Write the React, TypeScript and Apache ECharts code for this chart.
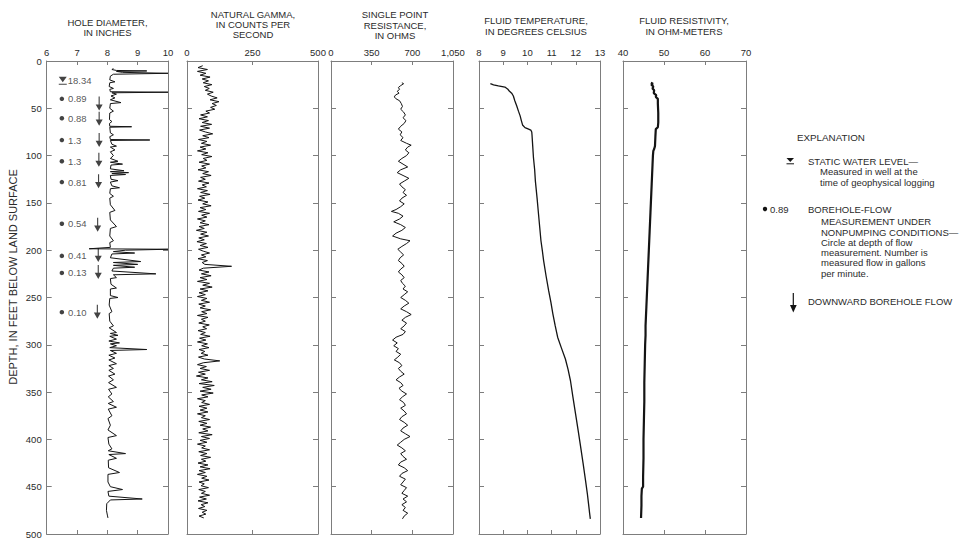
import React, { useEffect, useRef } from 'react';
import * as echarts from 'echarts';

// ---------- DATA ----------
// Hole diameter (inches) vs depth (feet)
const CALIPER: [number, number][] = [
  [8.2, 8], [8.15, 9], [8.3, 10], [9.3, 10.5], [8.3, 11], [8.5, 12], [10, 13], [8.2, 14], [8.1, 16], [8.08, 20],
  [8.25, 22], [8.08, 23], [8.06, 27], [8.2, 29], [8.08, 30], [8.1, 32.5], [10, 33], [8.15, 33.6], [8.3, 35], [8.12, 37],
  [8.25, 39], [8.1, 41], [8.45, 44], [8.1, 45], [8.08, 50], [8.2, 53], [8.08, 55], [8.07, 62], [8.15, 64], [8.07, 66],
  [8.08, 69], [8.8, 69.5], [8.08, 70], [8.1, 76], [8.2, 78], [8.08, 80], [8.1, 83], [9.4, 83.5], [8.1, 84], [8.15, 88],
  [8.3, 90], [8.1, 91], [8.25, 94], [8.1, 96], [8.2, 100], [8.1, 103], [8.35, 106], [8.1, 107], [8.5, 109], [8.12, 110],
  [8.1, 114], [8.55, 116], [8.1, 117], [8.7, 118], [8.15, 119], [8.6, 120], [8.1, 121], [8.12, 125], [8.35, 126.5], [8.1, 128],
  [8.15, 132], [8.4, 134], [8.1, 135], [8.08, 140], [8.2, 143], [8.08, 145], [8.1, 152], [8.25, 158], [8.08, 160], [8.1, 168],
  [8.3, 175], [8.1, 177], [8.08, 185], [8.2, 190], [8.08, 192], [8.1, 197], [7.4, 198.5], [10, 199], [8.6, 200], [8.2, 201.5],
  [8.9, 203], [8.15, 204], [8.1, 208], [9.1, 212], [8.2, 213], [9.0, 215], [8.2, 216], [8.9, 218], [8.2, 219], [8.15, 222],
  [9.6, 225], [8.2, 226], [8.3, 229], [8.1, 230], [8.12, 236], [8.3, 240], [8.1, 241], [8.1, 248], [8.35, 250], [8.08, 251],
  [8.06, 258], [8.15, 265], [8.06, 267], [8.08, 275], [8.2, 280], [8.06, 282], [8.3, 287], [8.1, 288], [8.35, 290], [8.08, 291],
  [8.3, 294], [8.05, 296], [8.4, 298], [8.1, 299], [8.3, 301], [8.08, 303], [9.3, 305], [8.1, 306], [8.3, 309], [8.05, 311],
  [8.25, 314], [8.05, 316], [8.3, 320], [8.05, 322], [8.2, 325], [8.05, 327], [8.25, 331], [8.04, 333], [8.2, 337], [8.04, 340],
  [8.3, 345], [8.04, 347], [8.15, 352], [8.03, 355], [8.2, 360], [8.03, 362], [8.3, 366], [8.03, 368], [8.15, 375], [8.02, 378],
  [8.1, 385], [8.02, 390], [8.3, 396], [8.02, 398], [8.05, 405], [8.15, 410], [8.03, 412], [8.6, 415], [8.05, 416], [8.3, 420],
  [8.03, 422], [8.04, 430], [8.4, 435], [8.02, 437], [8.02, 445], [8.1, 450], [8.5, 453], [8.02, 455], [8.05, 460], [9.15, 463],
  [8.1, 464], [7.98, 468], [7.97, 475], [8.0, 480], [8.02, 483],
];

// Natural gamma (counts per second) vs depth
const GAMMA: [number, number][] = [
  [60, 5], [42, 7], [78, 9], [40, 11], [72, 13], [50, 15], [88, 17], [58, 19], [82, 21], [62, 23], [95, 25], [66, 27], [85, 29],
  [70, 31], [100, 33], [78, 35], [92, 37], [115, 39], [88, 41], [122, 43], [96, 45], [112, 47], [90, 49], [106, 51], [72, 53],
  [86, 55], [52, 57], [78, 59], [46, 61], [82, 63], [58, 65], [94, 67], [52, 69], [86, 71], [48, 73], [70, 75], [98, 77], [60, 79],
  [84, 81], [44, 83], [76, 85], [55, 87], [90, 89], [50, 91], [72, 93], [40, 95], [80, 97], [56, 99], [95, 101], [62, 103], [76, 105],
  [46, 107], [86, 109], [56, 111], [72, 113], [42, 115], [82, 117], [60, 119], [92, 121], [52, 123], [70, 125], [44, 127], [84, 129],
  [58, 131], [74, 133], [40, 135], [78, 137], [52, 139], [88, 141], [48, 143], [68, 145], [42, 147], [80, 149], [60, 151], [92, 153],
  [50, 155], [72, 157], [44, 159], [86, 161], [56, 163], [76, 165], [40, 167], [70, 169], [50, 171], [84, 173], [46, 175], [66, 177],
  [36, 179], [76, 181], [52, 183], [82, 185], [45, 187], [66, 189], [38, 191], [74, 193], [50, 195], [80, 197], [44, 199], [62, 201],
  [86, 203], [55, 205], [72, 207], [42, 209], [78, 211], [58, 213], [68, 215], [170, 217], [62, 219], [46, 221], [84, 223], [55, 225],
  [92, 227], [50, 229], [76, 231], [40, 233], [86, 235], [60, 237], [96, 239], [50, 241], [80, 243], [46, 245], [70, 247], [40, 249],
  [76, 251], [55, 253], [86, 255], [45, 257], [70, 259], [50, 261], [90, 263], [56, 265], [76, 267], [40, 269], [80, 271], [55, 273],
  [70, 275], [45, 277], [85, 279], [60, 281], [75, 283], [42, 285], [70, 287], [52, 289], [88, 291], [48, 293], [72, 295], [40, 297],
  [78, 299], [56, 301], [84, 303], [46, 305], [68, 307], [54, 309], [80, 311], [44, 313], [66, 315], [125, 317], [62, 319], [40, 321],
  [74, 323], [50, 325], [86, 327], [44, 329], [70, 331], [36, 333], [80, 335], [55, 337], [96, 339], [46, 341], [104, 343], [60, 345],
  [92, 347], [50, 349], [100, 351], [56, 353], [80, 355], [40, 357], [70, 359], [56, 361], [86, 363], [46, 365], [76, 367], [50, 369],
  [80, 371], [40, 373], [70, 375], [55, 377], [86, 379], [45, 381], [76, 383], [50, 385], [90, 387], [60, 389], [80, 391], [45, 393],
  [96, 395], [55, 397], [86, 399], [50, 401], [76, 403], [40, 405], [70, 407], [56, 409], [86, 411], [45, 413], [76, 415], [52, 417],
  [90, 419], [55, 421], [72, 423], [42, 425], [80, 427], [50, 429], [88, 431], [46, 433], [70, 435], [40, 437], [76, 439], [56, 441],
  [84, 443], [46, 445], [66, 447], [54, 449], [82, 451], [45, 453], [70, 455], [55, 457], [86, 459], [48, 461], [74, 463], [42, 465],
  [80, 467], [54, 469], [68, 471], [44, 473], [76, 475], [58, 477], [72, 479], [46, 481], [64, 483],
];

// Single point resistance (ohms) vs depth
const RESISTANCE: [number, number][] = [
  [610, 23], [625, 24], [600, 26], [580, 28], [590, 30], [570, 32], [585, 34], [555, 36], [545, 38], [560, 40], [590, 42], [605, 45],
  [615, 48], [600, 51], [625, 54], [640, 57], [620, 60], [645, 63], [630, 66], [600, 69], [580, 72], [610, 75], [595, 78], [620, 81],
  [600, 84], [650, 87], [690, 89], [660, 91], [640, 94], [670, 97], [650, 100], [610, 103], [580, 106], [620, 109], [660, 112], [600, 115],
  [570, 118], [620, 121], [670, 124], [630, 127], [590, 130], [610, 133], [640, 136], [620, 139], [650, 142], [610, 145], [590, 148],
  [630, 151], [600, 154], [560, 157], [520, 159], [580, 161], [620, 164], [590, 167], [540, 170], [600, 173], [640, 176], [610, 179],
  [560, 182], [530, 185], [600, 188], [680, 190], [650, 193], [610, 196], [575, 199], [600, 202], [625, 205], [595, 208], [580, 211],
  [610, 214], [630, 217], [600, 220], [580, 223], [610, 226], [630, 229], [600, 232], [615, 235], [640, 238], [620, 241], [660, 244],
  [630, 247], [600, 250], [640, 253], [670, 256], [630, 259], [600, 262], [650, 265], [690, 268], [640, 271], [610, 274], [650, 277],
  [630, 280], [600, 283], [640, 286], [620, 289], [560, 292], [530, 295], [570, 298], [540, 301], [580, 304], [560, 307], [600, 310],
  [575, 313], [545, 316], [590, 319], [610, 322], [580, 325], [600, 328], [630, 331], [590, 334], [560, 337], [600, 340], [620, 343],
  [585, 346], [610, 349], [650, 352], [615, 355], [590, 358], [625, 361], [640, 364], [600, 367], [630, 370], [650, 373], [610, 376],
  [590, 379], [630, 382], [660, 385], [620, 388], [600, 391], [640, 394], [680, 397], [630, 400], [600, 403], [570, 406], [610, 409],
  [640, 412], [600, 415], [620, 418], [650, 421], [600, 424], [580, 427], [630, 430], [660, 433], [610, 436], [590, 439], [640, 442],
  [620, 445], [600, 448], [650, 451], [630, 454], [610, 457], [660, 460], [620, 463], [650, 466], [610, 469], [640, 472], [620, 475],
  [660, 478], [630, 481], [615, 484],
];

// Fluid temperature (degrees Celsius) vs depth
const TEMPERATURE: [number, number][] = [
  [8.47, 24], [8.6, 25.2], [8.8, 26.2], [9.07, 27.5], [9.18, 29.5], [9.25, 31.7], [9.35, 34], [9.42, 37], [9.48, 42], [9.56, 47.5],
  [9.63, 53], [9.7, 58], [9.75, 63], [9.8, 67.6], [9.9, 70.5], [10.05, 72], [10.14, 73], [10.18, 75], [10.19, 78], [10.22, 90],
  [10.25, 102], [10.3, 115], [10.33, 127], [10.4, 145], [10.46, 162], [10.51, 176], [10.56, 190], [10.62, 201], [10.67, 211],
  [10.77, 227], [10.88, 243], [10.97, 255], [11.05, 267], [11.15, 280], [11.25, 292], [11.4, 303], [11.57, 315], [11.68, 326],
  [11.78, 338], [11.88, 355], [11.99, 373], [12.1, 391], [12.2, 408], [12.3, 425], [12.4, 443], [12.48, 458], [12.54, 471],
  [12.57, 478], [12.6, 484],
];

// Fluid resistivity (ohm-meters) vs depth
const RESISTIVITY: [number, number][] = [
  [46.8, 23], [47.3, 24], [46.9, 25], [47.4, 27], [47.2, 29], [47.6, 31], [47.5, 34], [48.1, 36], [48.0, 38], [48.5, 40], [48.5, 45],
  [48.6, 55], [48.6, 65], [48.5, 70], [48.0, 72], [47.9, 80], [47.8, 90], [47.6, 93], [47.4, 95], [47.3, 100], [47.2, 110], [47.1, 120],
  [47.0, 130], [46.9, 140], [46.8, 150], [46.7, 160], [46.6, 170], [46.5, 180], [46.4, 190], [46.3, 200], [46.2, 210], [46.1, 220],
  [46.0, 230], [45.9, 240], [45.8, 250], [45.7, 260], [45.6, 270], [45.5, 280], [45.5, 290], [45.4, 300], [45.3, 320], [45.2, 340],
  [45.2, 360], [45.1, 380], [45.0, 400], [45.0, 420], [44.9, 440], [44.9, 450], [44.6, 452], [44.5, 460], [44.5, 470], [44.4, 483],
];

// Borehole-flow measurements: [x position (in), depth, gallons per minute]
const FLOW_POINTS: [number, number, string][] = [
  [6.5, 40, '0.89'], [6.5, 60.5, '0.88'], [6.5, 83.6, '1.3'], [6.5, 106, '1.3'], [6.5, 128, '0.81'],
  [6.5, 172, '0.54'], [6.5, 206, '0.41'], [6.5, 224, '0.13'], [6.5, 265.5, '0.10'],
];
// Downward flow arrows: [x position (in), depth]
const FLOW_ARROWS: [number, number][] = [
  [7.73, 45], [7.73, 61], [7.73, 83.5], [7.72, 104.5], [7.71, 127], [7.68, 173], [7.7, 205], [7.7, 223], [7.67, 265],
];
// Static water level
const WATER_LEVEL: [number, number, string][] = [[6.53, 21, '18.34']];

const DEPTH_MIN = 0;
const DEPTH_MAX = 500;
const DEPTH_STEP = 50;

// ---------- STYLE / LAYOUT ----------
const FONT = '"Liberation Sans", Arial, Helvetica, sans-serif';
const TEXT = '#2a2a2a';
const FRAME = '#7d7d7d';
const INK = '#141414';
const TOP = 61;
const HEIGHT = 473;

const PANELS = [
  { left: 46.7, width: 121.3, min: 6, max: 10, interval: 1, title: 'HOLE DIAMETER,\nIN INCHES', ty: 27.5, tx: 107.5 },
  { left: 187, width: 131, min: 0, max: 500, interval: 250, title: 'NATURAL GAMMA,\nIN COUNTS PER\nSECOND', ty: 24.5, tx: 253 },
  { left: 331, width: 122, min: 0, max: 1050, interval: 350, title: 'SINGLE POINT\nRESISTANCE,\nIN OHMS', ty: 25, tx: 395 },
  { left: 479, width: 121, min: 8, max: 13, interval: 1, title: 'FLUID TEMPERATURE,\nIN DEGREES CELSIUS', ty: 26, tx: 536 },
  { left: 623, width: 123, min: 40, max: 70, interval: 10, title: 'FLUID RESISTIVITY,\nIN OHM-METERS', ty: 26, tx: 684 },
];

const ARROW_PATH = 'path://M4.2,0L5.8,0L5.8,9L10,9L5,16L0,9L4.2,9Z';
const WL_PATH = 'path://M0,0L10,0L5,7Z M0,9L10,9L10,10.5L0,10.5Z';

function txt(x: number, y: number, s: string, align: string = 'left', size = 9.5) {
  return {
    type: 'text', x, y, silent: true,
    style: { text: s, fill: TEXT, fontSize: size, fontFamily: FONT, align, verticalAlign: 'middle', lineHeight: 10.3 },
  };
}

export default function App() {
  const ref = useRef<HTMLDivElement>(null);

  useEffect(() => {
    document.body.style.margin = '0';
    if (!ref.current) return;
    const chart = echarts.init(ref.current, undefined, { renderer: 'svg' });

    const grid: any[] = [];
    const xAxis: any[] = [];
    const yAxis: any[] = [];
    PANELS.forEach((p, i) => {
      grid.push({ left: p.left, top: TOP, width: p.width, height: HEIGHT, containLabel: false });
      const base = {
        type: 'value', gridIndex: i, min: p.min, max: p.max, interval: p.interval,
        splitLine: { show: false },
        axisLine: { show: true, onZero: false, lineStyle: { color: FRAME, width: 1 } },
        axisTick: { show: true, inside: true, length: 4, lineStyle: { color: FRAME, width: 1 } },
      };
      xAxis.push({
        ...base, position: 'top',
        axisLabel: {
          show: true, margin: 4, fontSize: 9.5, color: TEXT, fontFamily: FONT,
          formatter: (v: number) => v.toLocaleString('en-US'),
        },
      });
      xAxis.push({ ...base, position: 'bottom', axisLabel: { show: false } });
      const ybase = {
        type: 'value', gridIndex: i, min: DEPTH_MIN, max: DEPTH_MAX, interval: DEPTH_STEP, inverse: true,
        splitLine: { show: false },
        axisLine: { show: true, onZero: false, lineStyle: { color: FRAME, width: 1 } },
        axisTick: { show: true, inside: true, length: 5, lineStyle: { color: FRAME, width: 1 } },
      };
      yAxis.push({
        ...ybase, position: 'left',
        axisLabel: { show: i === 0, margin: 5, fontSize: 9.5, color: TEXT, fontFamily: FONT },
      });
      yAxis.push({ ...ybase, position: 'right', axisLabel: { show: false } });
    });

    const lineSeries = (i: number, data: [number, number][], width: number) => ({
      type: 'line', xAxisIndex: 2 * i, yAxisIndex: 2 * i, data, showSymbol: false, symbol: 'none',
      lineStyle: { color: INK, width }, silent: true, clip: true,
    });

    const labelStyle = { show: true, position: 'right', fontSize: 9.5, color: TEXT, fontFamily: FONT };

    const series: any[] = [
      lineSeries(0, CALIPER, 1),
      lineSeries(1, GAMMA, 1),
      lineSeries(2, RESISTANCE, 1),
      lineSeries(3, TEMPERATURE, 1.3),
      lineSeries(4, RESISTIVITY, 2.2),
      {
        type: 'scatter', xAxisIndex: 0, yAxisIndex: 0, data: FLOW_POINTS, symbol: 'circle', symbolSize: 4.5,
        itemStyle: { color: INK }, silent: true,
        label: { ...labelStyle, distance: 4, formatter: (p: any) => p.value[2] },
      },
      {
        type: 'scatter', xAxisIndex: 0, yAxisIndex: 0, data: FLOW_ARROWS, symbol: ARROW_PATH,
        symbolSize: [7, 14], symbolKeepAspect: false, itemStyle: { color: INK }, silent: true,
      },
      {
        type: 'scatter', xAxisIndex: 0, yAxisIndex: 0, data: WATER_LEVEL, symbol: WL_PATH,
        symbolSize: [8, 8], symbolKeepAspect: false, itemStyle: { color: INK }, silent: true,
        label: { ...labelStyle, distance: 1, formatter: (p: any) => p.value[2] },
      },
    ];

    const graphic: any[] = [];
    PANELS.forEach((p) => {
      graphic.push(txt(p.tx, p.ty, p.title, 'center'));
    });
    graphic.push({
      type: 'text', x: 13, y: 277, rotation: Math.PI / 2, silent: true,
      style: { text: 'DEPTH, IN FEET BELOW LAND SURFACE', fill: TEXT, fontSize: 11, fontFamily: FONT, align: 'center', verticalAlign: 'middle' },
    });
    // Explanation
    graphic.push(txt(797, 137, 'EXPLANATION', 'left', 9.8));
    graphic.push({ type: 'polygon', silent: true, shape: { points: [[786.5, 158], [794, 158], [790.25, 162]] }, style: { fill: INK } });
    graphic.push({ type: 'line', silent: true, shape: { x1: 786.5, y1: 163.8, x2: 794, y2: 163.8 }, style: { stroke: INK, lineWidth: 1 } });
    graphic.push(txt(808, 161, 'STATIC WATER LEVEL\u2014'));
    graphic.push(txt(820, 177, 'Measured in well at the\ntime of geophysical logging'));
    graphic.push({ type: 'circle', silent: true, shape: { cx: 765, cy: 209, r: 2.2 }, style: { fill: INK } });
    graphic.push(txt(770, 209, '0.89'));
    graphic.push(txt(808, 209, 'BOREHOLE-FLOW'));
    graphic.push(txt(821, 247.5, 'MEASUREMENT UNDER\nNONPUMPING CONDITIONS\u2014\nCircle at depth of flow\nmeasurement. Number is\nmeasured flow in gallons\nper minute.'));
    graphic.push({ type: 'line', silent: true, shape: { x1: 793.3, y1: 293, x2: 793.3, y2: 306 }, style: { stroke: INK, lineWidth: 1.2 } });
    graphic.push({ type: 'polygon', silent: true, shape: { points: [[790, 305], [796.7, 305], [793.3, 312.5]] }, style: { fill: INK } });
    graphic.push(txt(808, 301, 'DOWNWARD BOREHOLE FLOW'));

    chart.setOption({
      animation: false,
      backgroundColor: '#ffffff',
      grid, xAxis, yAxis, series, graphic,
    });

    return () => chart.dispose();
  }, []);

  return <div ref={ref} style={{ width: 966, height: 542 }} />;
}
